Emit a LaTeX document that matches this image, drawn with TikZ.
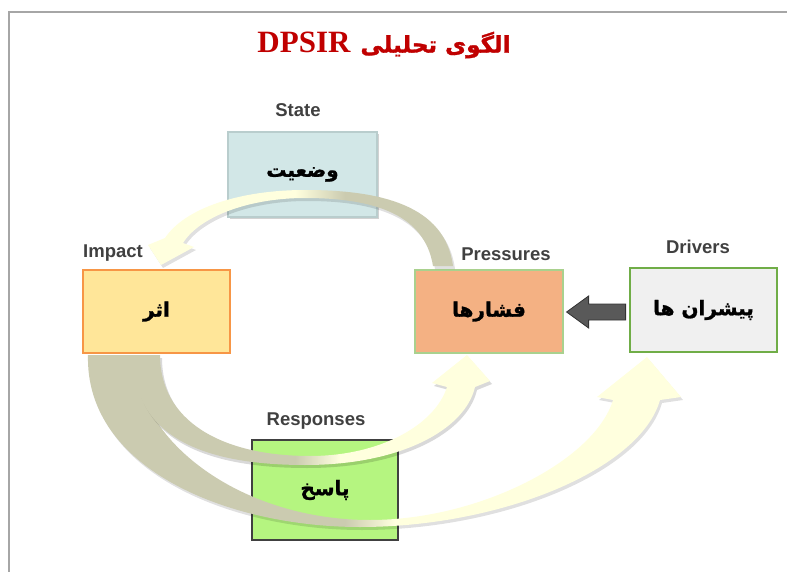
\documentclass[tikz,border=0pt]{standalone}
\usepackage{fontspec}
\setmainfont{Liberation Sans}
\newfontfamily\arabicfont[Script=Arabic, BoldFeatures={FakeBold=1.3}]{DejaVu Sans}
\newfontfamily\titleserif{Liberation Serif}
\TeXXeTstate=1
\usetikzlibrary{shadows,calc}
\definecolor{tailc}{RGB}{203,203,176}
\definecolor{headc}{RGB}{255,255,222}
\definecolor{framec}{RGB}{166,166,166}
\definecolor{titlec}{RGB}{192,0,0}
\definecolor{labelc}{RGB}{64,64,64}
\definecolor{statefill}{RGB}{210,231,231}
\definecolor{stateline}{RGB}{185,205,205}
\definecolor{impactfill}{RGB}{255,230,153}
\definecolor{impactline}{RGB}{247,150,70}
\definecolor{presfill}{RGB}{244,177,131}
\definecolor{presline}{RGB}{169,209,142}
\definecolor{drvfill}{RGB}{240,240,240}
\definecolor{drvline}{RGB}{112,173,71}
\definecolor{respfill}{RGB}{181,245,128}
\definecolor{respline}{RGB}{64,64,64}
\definecolor{darkarrow}{RGB}{89,89,89}
\newcommand{\pathTop}{(453,266) .. controls (445,205) and (380,190) .. (305,190) .. controls (240,190) and (185,208) .. (165,238) -- (148,245) -- (161,265) -- (194,247) -- (183,243) .. controls (200,216) and (250,198) .. (305,198) .. controls (375,198) and (425,215) .. (433,266) -- cycle}
\newcommand{\pathOuter}{(88,355) .. controls (85,470) and (230,527) .. (360,527) .. controls (500,527) and (640,470) .. (660,400) -- (681,397) -- (647,357) -- (597,397) -- (613,400) .. controls (595,460) and (480,520) .. (370,520) .. controls (240,520) and (135,440) .. (135,355) -- cycle}
\newcommand{\pathInner}{(134,355) .. controls (131,440) and (210,465) .. (305,465) .. controls (400,465) and (465,430) .. (475,387) -- (490,381) -- (467,355) -- (432,383) -- (447,387) .. controls (435,425) and (380,456) .. (310,456) .. controls (220,456) and (160,420) .. (160,355) -- cycle}
\begin{document}
\begin{tikzpicture}[x=1pt,y=-1pt,
  box/.style={draw, line width=1.2pt, minimum width=#1, inner sep=0pt},
  lbl/.style={font=\bfseries\fontsize{18.5}{20}\selectfont, text=labelc, inner sep=0pt},
  fa/.style={font=\arabicfont\bfseries\fontsize{20}{24}\selectfont, text=black}]
\useasboundingbox (0,0) rectangle (787,572);
\fill[white] (0,0) rectangle (787,572);
% frame
\draw[framec, line width=2pt] (9,572) -- (9,12) -- (787,12);
% title
\node[text=titlec, inner sep=0pt] (title) at (384,45)
  {\beginR{\arabicfont\bfseries\fontsize{23}{27}\selectfont الگوی تحلیلی}\hspace{10pt}\beginL{\titleserif\bfseries\fontsize{31}{34}\selectfont DPSIR}\endL\endR};
% boxes
\node[box=149pt, minimum height=85pt, fill=statefill, draw=stateline,
  drop shadow={shadow xshift=2pt, shadow yshift=-2pt, opacity=0.35}, fa] (state) at (302.5,174.5) {\beginR وضعیت\endR};
\node[box=147pt, minimum height=83pt, fill=impactfill, draw=impactline, fa] (impact) at (156.5,311.5) {\beginR اثر\endR};
\node[box=148pt, minimum height=83pt, fill=presfill, draw=presline, fa] (pres) at (489,311.5) {\beginR فشارها\endR};
\node[box=147pt, minimum height=84pt, fill=drvfill, draw=drvline, fa] (drv) at (703.5,310) {\beginR پیشران ها\endR};
\node[box=146pt, minimum height=100pt, fill=respfill, draw=respline, fa] (resp) at (325,490) {\beginR پاسخ\endR};
% labels
\node[lbl] (lstate) at (298,110) {State};
\node[lbl] (limpact) at (113,253) {Impact};
\node[lbl] (lpres) at (506,254) {Pressures};
\node[lbl] (ldrv) at (698,247) {Drivers};
\node[lbl] (lresp) at (316,421) {Responses};
% dark block arrow Drivers -> Pressures
\filldraw[fill=darkarrow, draw=black!80, line width=0.8pt]
  ($(pres.east)+(3,0.5)$) -- ++(22,-16) -- ++(0,8) -- ++(37,0) -- ++(0,16) -- ++(-37,0) -- ++(0,8) -- cycle;
% top curved arrow (Pressures -> Impact)
\fill[black, opacity=0.12] [shift={(2,3)}] \pathTop;
\begin{scope}
\clip \pathTop;
\fill[headc] (140,180) rectangle (295,270);
\shade[left color=headc, right color=tailc] (295,180) rectangle (345,270);
\fill[tailc] (345,180) rectangle (460,270);
\end{scope}
% outer curved arrow (Impact -> Drivers)
\fill[black, opacity=0.12] [shift={(2,3)}] \pathOuter;
\begin{scope}
\clip \pathOuter;
\fill[tailc] (80,350) rectangle (345,535);
\shade[left color=tailc, right color=headc] (345,350) rectangle (395,535);
\fill[headc] (395,350) rectangle (690,535);
\end{scope}
% inner curved arrow (Impact -> Pressures)
\fill[black, opacity=0.15] [shift={(2,3)}] \pathInner;
\begin{scope}
\clip \pathInner;
\fill[tailc] (125,350) rectangle (295,470);
\shade[left color=tailc, right color=headc] (295,350) rectangle (340,470);
\fill[headc] (340,350) rectangle (495,470);
\end{scope}
\end{tikzpicture}
\end{document}
